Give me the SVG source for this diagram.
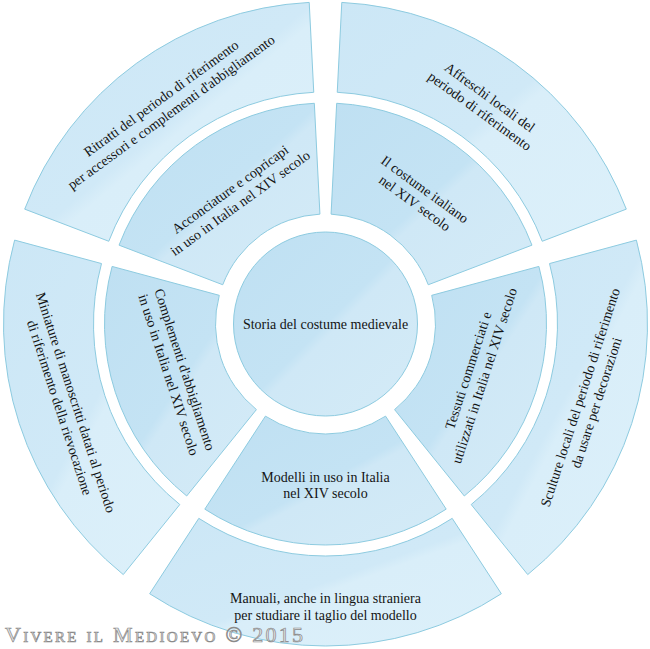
<svg xmlns="http://www.w3.org/2000/svg" width="650" height="649" viewBox="0 0 650 649">
<style>
.seg{stroke:#8dcbe0;stroke-width:1}
.mid{fill:url(#gMid)}
.out{fill:url(#gOut)}
.t{font-family:"Liberation Serif","Times New Roman",serif;font-size:14px;fill:#141414;text-anchor:middle}
.wm{font-family:"Liberation Serif","Times New Roman",serif;font-size:22px;font-variant:small-caps;fill:#e4e4e4;stroke:#8a8a8a;stroke-width:0.7}
</style>
<defs>
<linearGradient id="gMid" x1="0" y1="0" x2="1" y2="1">
<stop offset="0" stop-color="#bfe0f2"/>
<stop offset="0.5" stop-color="#c4e3f4"/>
<stop offset="0.54" stop-color="#cfe8f6"/>
<stop offset="1" stop-color="#d4ebf7"/>
</linearGradient>
<linearGradient id="gOut" x1="0" y1="0" x2="1" y2="1">
<stop offset="0" stop-color="#cce7f6"/>
<stop offset="0.5" stop-color="#d0e9f7"/>
<stop offset="0.54" stop-color="#d9eef9"/>
<stop offset="1" stop-color="#dcf0fa"/>
</linearGradient>
</defs>
<rect width="650" height="649" fill="#ffffff"/>
<g id="connectors"></g>
<g id="center">
<circle class="seg mid" cx="325.5" cy="324" r="92"/>
<text class="t" x="325.5" y="329">Storia del costume medievale</text>
</g>
<g id="acconciature">
<path class="seg mid" d="M314.32,103.29 A221,221 0 0 0 119.04,245.17 L222.74,284.76 A110,110 0 0 1 319.93,214.14 Z"/>
<text class="t" transform="translate(235,196) rotate(-36)"><tspan x="0" y="-3.5">Acconciature e copricapi</tspan><tspan x="0" y="13.5">in uso in Italia nel XIV secolo</tspan></text>
</g>
<g id="costume">
<path class="seg mid" d="M531.96,245.17 A221,221 0 0 0 336.68,103.29 L331.07,214.14 A110,110 0 0 1 428.26,284.76 Z"/>
<text class="t" transform="translate(420,196) rotate(36)"><tspan x="0" y="-3.5">Il costume italiano</tspan><tspan x="0" y="13.5">nel XIV secolo</tspan></text>
</g>
<g id="tessuti">
<path class="seg mid" d="M464.29,495.98 A221,221 0 0 0 538.88,266.43 L431.71,295.34 A110,110 0 0 1 394.58,409.60 Z"/>
<text class="t" transform="translate(476,373) rotate(-72)"><tspan x="0" y="-3.5">Tessuti commerciati e</tspan><tspan x="0" y="13.5">utilizzati in Italia nel XIV secolo</tspan></text>
</g>
<g id="modelli">
<path class="seg mid" d="M204.81,509.13 A221,221 0 0 0 446.19,509.13 L385.57,416.15 A110,110 0 0 1 265.43,416.15 Z"/>
<text class="t"><tspan x="325.5" y="482">Modelli in uso in Italia</tspan><tspan x="325.5" y="498">nel XIV secolo</tspan></text>
</g>
<g id="complementi">
<path class="seg mid" d="M112.12,266.43 A221,221 0 0 0 186.71,495.98 L256.42,409.60 A110,110 0 0 1 219.29,295.34 Z"/>
<text class="t" transform="translate(177,372) rotate(72)"><tspan x="0" y="-3.5">Complementi d'abbigliamento</tspan><tspan x="0" y="13.5">in uso in Italia nel XIV secolo</tspan></text>
</g>
<g id="ritratti">
<path class="seg out" d="M309.21,2.42 A322,322 0 0 0 24.69,209.14 L108.77,241.25 A232,232 0 0 1 313.76,92.30 Z"/>
<text class="t" transform="translate(166,105) rotate(-36)"><tspan x="0" y="-3.5">Ritratti del periodo di riferimento</tspan><tspan x="0" y="13.5">per accessori e complementi d'abbigliamento</tspan></text>
</g>
<g id="affreschi">
<path class="seg out" d="M626.31,209.14 A322,322 0 0 0 341.79,2.42 L337.24,92.30 A232,232 0 0 1 542.23,241.25 Z"/>
<text class="t" transform="translate(485,104) rotate(36)"><tspan x="0" y="-3.5">Affreschi locali del</tspan><tspan x="0" y="13.5">periodo di riferimento</tspan></text>
</g>
<g id="sculture">
<path class="seg out" d="M527.72,574.58 A322,322 0 0 0 636.39,240.12 L549.50,263.56 A232,232 0 0 1 471.20,504.54 Z"/>
<text class="t" transform="translate(588,400) rotate(-72)"><tspan x="0" y="-3.5">Sculture locali del periodo di riferimento</tspan><tspan x="0" y="13.5">da usare per decorazioni</tspan></text>
</g>
<g id="manuali">
<path class="seg out" d="M149.66,593.74 A322,322 0 0 0 501.34,593.74 L452.20,518.35 A232,232 0 0 1 198.80,518.35 Z"/>
<text class="t"><tspan x="325.5" y="603">Manuali, anche in lingua straniera</tspan><tspan x="325.5" y="620">per studiare il taglio del modello</tspan></text>
</g>
<g id="miniature">
<path class="seg out" d="M14.61,240.12 A322,322 0 0 0 123.28,574.58 L179.80,504.54 A232,232 0 0 1 101.50,263.56 Z"/>
<text class="t" transform="translate(68,405) rotate(72)"><tspan x="0" y="-3.5">Miniature di manoscritti datati al periodo</tspan><tspan x="0" y="13.5">di riferimento della rievocazione</tspan></text>
</g>
<text class="wm" x="5" y="642" textLength="298" lengthAdjust="spacing">Vivere il Medioevo © 2015</text>
</svg>
